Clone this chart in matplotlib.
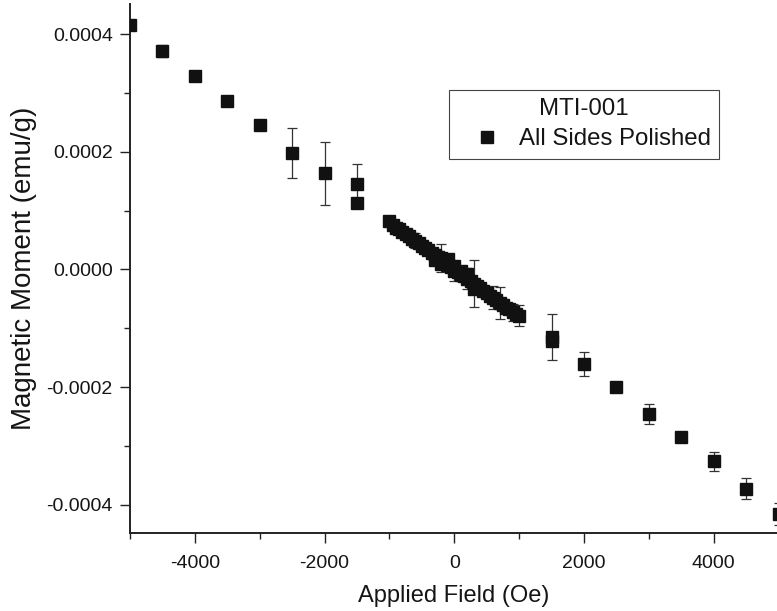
import numpy as np
import matplotlib
matplotlib.use("Agg")
import matplotlib.pyplot as plt
from matplotlib.ticker import MultipleLocator, FormatStrFormatter

plt.rcParams['font.family'] = ['Liberation Sans', 'DejaVu Sans']
plt.rcParams['axes.unicode_minus'] = False

# ----------------------------
# Data: applied field (Oe), moment (emu/g), error (emu/g)
# ----------------------------
field = [-5000, -4500, -4000, -3500, -3000, -2500, -2000, -1500, -1500,
         -1000, -950, -900, -850, -800, -750, -700, -650, -600, -550,
         -500, -450, -400, -350, -300, -250, -200, -150, -100, -50,
         0, 50, 100, 150, 200, 250, 300, 350, 400, 450,
         500, 550, 600, 650, 700, 750, 800, 850, 900, 950, 1000,
         -300, -200, -100, 0, 100, 200, 300,
         1500, 1500, 2000, 2500, 3000, 3500, 4000, 4500, 5000]

moment = [41.5, 37.1, 32.9, 28.7, 24.5, 19.8, 16.3, 14.45, 11.2,
          8.2, 7.6, 7.1, 6.8, 6.4, 6.0, 5.6, 5.2, 4.9, 4.4,
          4.0, 3.6, 3.3, 2.8, 2.5, 2.1, 1.9, 1.3, 0.8, 0.4,
          -0.2, -0.4, -0.9, -1.1, -1.6, -2.0, -2.4, -2.9, -3.2, -3.7,
          -4.0, -4.5, -4.8, -5.2, -5.7, -6.0, -6.5, -6.8, -7.3, -7.6, -7.9,
          1.6, 0.9, 1.7, 0.6, -0.2, -0.8, -3.3,
          -11.5, -12.2, -16.1, -20.0, -24.6, -28.5, -32.6, -37.3, -41.6]

error = [0.5, 1.0, 0.8, 0.8, 0.6, 4.2, 5.3, 3.5, 0.5,
         0.8, 0.3, 0.5, 0.3, 0.6, 0.4, 0.5, 0.3, 1.2, 0.4,
         0.6, 0.3, 0.8, 0.4, 0.6, 0.5, 2.4, 0.4, 0.8, 0.6,
         1.7, 0.5, 0.6, 0.4, 1.8, 0.5, 4.0, 0.6, 0.8, 0.5,
         0.6, 0.5, 1.9, 0.6, 2.7, 0.5, 0.8, 0.6, 1.5, 0.6, 1.8,
         0.6, 0.8, 0.6, 0.8, 0.6, 0.8, 0.6,
         3.9, 0.9, 2.0, 0.3, 1.7, 0.6, 1.6, 1.8, 1.9]

# stored in units of 1e-5 emu/g
moment = np.array(moment) * 1e-5
error = np.array(error) * 1e-5

ink = '#151515'

# ----------------------------
# Figure
# ----------------------------
fig = plt.figure(figsize=(7.77, 6.11), dpi=100)
ax = fig.add_axes([130/777, 78/611, 647/777, 529/611])

ax.errorbar(field, moment, yerr=error, fmt='none', ecolor='#333333',
            elinewidth=0.9, capsize=3.8, capthick=0.9, zorder=2)
pts, = ax.plot(field, moment, 's', ms=8, color='#111111', mec='#111111',
               zorder=3, label='All Sides Polished')

ax.set_xlim(-5000, 4975)
ax.set_ylim(-0.000448, 0.000451)

ax.xaxis.set_major_locator(MultipleLocator(2000))
ax.xaxis.set_minor_locator(MultipleLocator(1000))
ax.yaxis.set_major_locator(MultipleLocator(0.0002))
ax.yaxis.set_minor_locator(MultipleLocator(0.0001))
ax.yaxis.set_major_formatter(FormatStrFormatter('%.4f'))

for s in ['top', 'right']:
    ax.spines[s].set_visible(False)
for s in ['left', 'bottom']:
    ax.spines[s].set_linewidth(1.4)
    ax.spines[s].set_color('#222222')

ax.tick_params(which='major', length=7.5, width=1.0, color='#222222',
               labelsize=14, labelcolor=ink)
ax.tick_params(axis='x', which='major', pad=8)
ax.tick_params(axis='y', which='major', pad=5)
ax.tick_params(which='minor', length=4.5, width=1.0, color='#222222')

ax.set_xlabel('Applied Field (Oe)', fontsize=17, color=ink, labelpad=10)
ax.set_ylabel('Magnetic Moment (emu/g)', fontsize=20, color=ink, labelpad=7)

leg = ax.legend(handles=[pts], title='MTI-001', fontsize=17.3, title_fontsize=17.3,
                loc='upper left', bbox_to_anchor=(0.493, 0.8374),
                borderaxespad=0, borderpad=0.35, handlelength=2.45,
                handletextpad=0.1, numpoints=1, fancybox=False,
                framealpha=1, labelspacing=0.33)
leg.get_frame().set_edgecolor('#444444')
leg.get_frame().set_linewidth(0.8)
leg.get_title().set_color(ink)
for t in leg.get_texts():
    t.set_color(ink)

fig.savefig('out.png', dpi=100)
